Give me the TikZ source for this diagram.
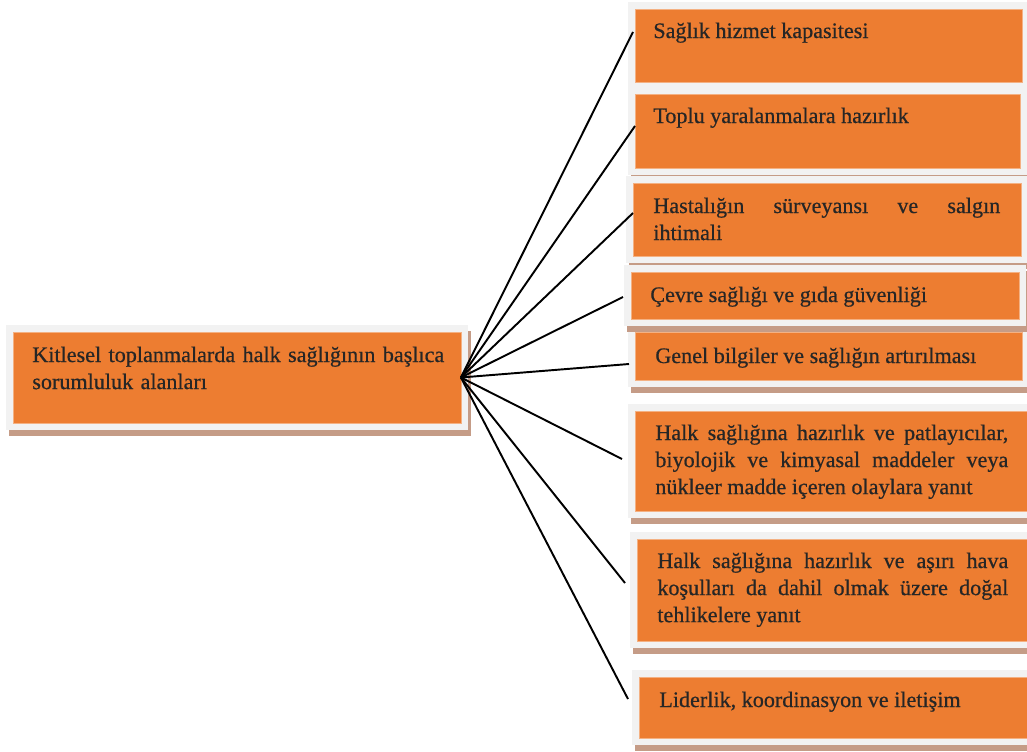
\documentclass[tikz,border=0pt]{standalone}
\usepackage{fontspec}
\setmainfont{Liberation Serif}
\newfontfamily\boxfont[FakeBold=0.6]{Liberation Serif}
\usetikzlibrary{calc,shadows}
\hyphenpenalty=10000
\definecolor{boxorange}{RGB}{237,125,49}
\definecolor{boxedge}{RGB}{244,177,131}
\definecolor{framegray}{RGB}{242,242,242}
\definecolor{shadebrown}{RGB}{197,156,135}
\tikzset{
  obox/.style = { general shadow={fill=shadebrown, draw=shadebrown, line width=0.28cm,
      shadow xshift=0.06cm, shadow yshift=-0.12cm},
    preaction={draw=framegray, line width=0.28cm},
    fill=boxorange, draw=boxedge, line width=0.3pt, inner sep=0pt, outer sep=0pt,
    anchor=north west },
  lbl/.style = { anchor=base west, inner sep=0pt, text width=7.04cm, align=justify,
    text=black!85, font=\boxfont\fontsize{12.6}{15.4}\selectfont },
  link/.style = { draw, line width=1.1pt }
}
\begin{document}
\begin{tikzpicture}[x=0.02cm, y=-0.02cm]
    \useasboundingbox (0,0) rectangle (1027,751);
    % ana kutu
    \node[obox, minimum width=8.96cm, minimum height=1.82cm] (main) at (13,332) {};
    \node[lbl, text width=8.4cm, align=left] (t0) at ($(main.north west)+(19,30)$)
      {Kitlesel toplanmalarda halk sağlığının başlıca\\ sorumluluk alanları};
    % sorumluluk alanlari
    \node[obox, minimum width=7.74cm, minimum height=1.46cm] (b1) at (635,9) {};
    \node[obox, minimum width=7.70cm, minimum height=1.48cm] (b2) at (635,94) {};
    \node[obox, minimum width=7.76cm, minimum height=1.46cm] (b3) at (633,183) {};
    \node[obox, minimum width=7.74cm, minimum height=0.96cm] (b5) at (635,332) {};
    \node[obox, minimum width=7.76cm, minimum height=0.94cm] (b4) at (631,272) {};
    \node[obox, minimum width=8.00cm, minimum height=2.00cm] (b6) at (635,411) {};
    \node[obox, minimum width=8.00cm, minimum height=2.04cm] (b7) at (637,539) {};
    \node[obox, minimum width=8.00cm, minimum height=1.22cm] (b8) at (639,677) {};
    \node[lbl] (t1) at ($(b1.north west)+(18,29)$) {Sağlık hizmet kapasitesi};
    \node[lbl] (t2) at ($(b2.north west)+(18,29)$) {Toplu yaralanmalara hazırlık};
    \node[lbl, text width=6.94cm] (t3) at ($(b3.north west)+(20,30)$)
      {Hastalığın sürveyansı ve salgın\linebreak ihtimali};
    \node[lbl] (t4) at ($(b4.north west)+(19,30)$) {Çevre sağlığı ve gıda güvenliği};
    \node[lbl] (t5) at ($(b5.north west)+(20,31)$) {Genel bilgiler ve sağlığın artırılması};
    \node[lbl, text width=7.06cm] (t6) at ($(b6.north west)+(20,29)$)
      {Halk sağlığına hazırlık ve patlayıcılar,\linebreak biyolojik ve kimyasal maddeler veya\linebreak nükleer madde içeren olaylara yanıt};
    \node[lbl, text width=7.02cm] (t7) at ($(b7.north west)+(20,29)$)
      {Halk sağlığına hazırlık ve aşırı hava\linebreak koşulları da dahil olmak üzere doğal\linebreak tehlikelere yanıt};
    \node[lbl] (t8) at ($(b8.north west)+(20,30)$) {Liderlik, koordinasyon ve iletişim};
    % baglantilar
    \path[link] (main.east) edge ($(b1.north west)+(-2,23)$);
    \path[link] (main.east) edge ($(b2.north west)+(0,32)$);
    \path[link] (main.east) edge ($(b3.north west)+(0,30)$);
    \path[link] (main.east) edge ($(b4.north west)+(-8,25)$);
    \path[link] (main.east) edge ($(b5.north west)+(-6,32)$);
    \path[link] (main.east) edge ($(b6.north west)+(-13,48)$);
    \path[link] (main.east) edge ($(b7.north west)+(-12,44)$);
    \path[link] (main.east) edge ($(b8.north west)+(-11,22)$);
\end{tikzpicture}
\end{document}
